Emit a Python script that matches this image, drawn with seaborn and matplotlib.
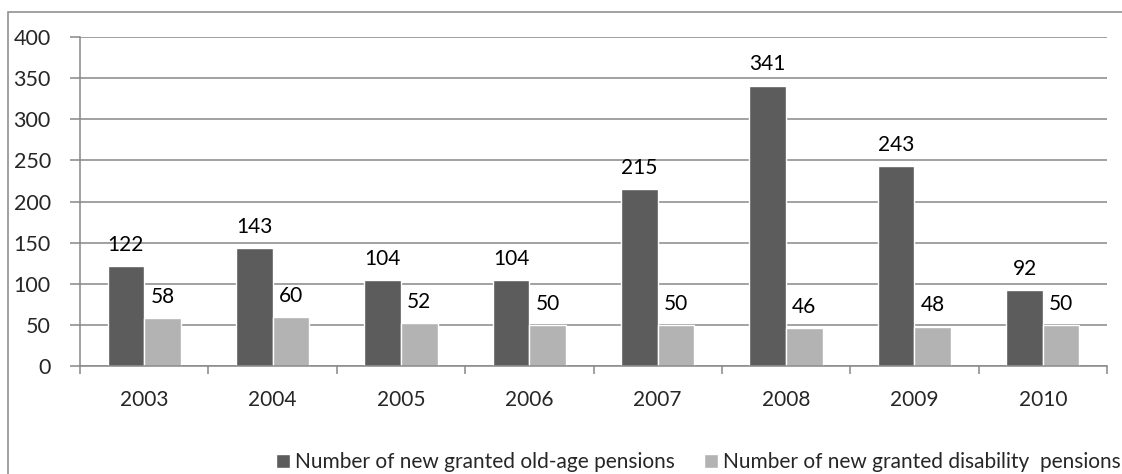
import matplotlib
matplotlib.use("Agg")
import matplotlib.pyplot as plt
import seaborn as sns
import pandas as pd
import numpy as np
from matplotlib.patches import Rectangle

years = ["2003", "2004", "2005", "2006", "2007", "2008", "2009", "2010"]
old_age = [122, 143, 104, 104, 215, 341, 243, 92]
disability = [58, 60, 52, 50, 50, 46, 48, 50]
series_names = ["Number of new granted old-age pensions",
                "Number of new granted disability  pensions"]
yticks = [0, 50, 100, 150, 200, 250, 300, 350, 400]

df = pd.DataFrame({
    "year": years * 2,
    "value": old_age + disability,
    "series": [series_names[0]] * len(years) + [series_names[1]] * len(years),
})

sns.set_theme(style="white")
plt.rcParams['font.family'] = ['Lato', 'DejaVu Sans']

fig = plt.figure(figsize=(11.22, 4.74), dpi=100)
ax = fig.add_axes([80/1122, 1-366/474, (1107-80)/1122, (366-37)/474])

palette = {series_names[0]: "#5c5c5c", series_names[1]: "#b3b3b3"}
sns.barplot(data=df, x="year", y="value", hue="series", palette=palette,
            width=0.57, saturation=1, ax=ax, legend=True)

for c in ax.containers:
    ax.bar_label(c, padding=8, fontsize=15, color="#000000")

ax.set_ylim(0, 400)
ax.set_xlim(-0.5, len(years) - 0.5)
ax.set_yticks(yticks)
ax.set_yticklabels([str(v) for v in yticks], fontsize=15.5)
ax.yaxis.grid(True, color="#888888", linewidth=1.1)
ax.set_axisbelow(True)
ax.set_xlabel("")
ax.set_ylabel("")

# category boundaries as major ticks, labels at centers
ax.set_xticks(np.arange(len(years) + 1) - 0.5)
ax.set_xticklabels([])
ax.set_xticks(np.arange(len(years)), minor=True)
ax.set_xticklabels(years, minor=True, fontsize=15)
ax.tick_params(axis="x", which="major", length=6, width=1.1, color="#888888", direction="out", bottom=True)
ax.tick_params(axis="x", which="minor", length=0, pad=17)
ax.tick_params(axis="y", length=7, width=1.1, color="#888888", direction="out", left=True, pad=14)

for s in ["top", "right"]:
    ax.spines[s].set_visible(False)
for s in ["left", "bottom"]:
    ax.spines[s].set_color("#888888")
    ax.spines[s].set_linewidth(1.1)

leg = ax.get_legend()
handles = leg.legend_handles
leg.remove()
fig.legend(handles, series_names, loc="center right", bbox_to_anchor=(1121/1122, 1-462/474),
           ncol=2, frameon=False, fontsize=15, handlelength=0.67, handleheight=0.67,
           handletextpad=0.25, columnspacing=1.4, borderaxespad=0, borderpad=0)

# outer chart border
fig.patches.append(Rectangle((8/1122, -0.1), 1.2, 1-12/474 + 0.1, transform=fig.transFigure,
                             fill=False, edgecolor="#888888", linewidth=1.1, zorder=0))

fig.savefig("out.png", dpi=100)
